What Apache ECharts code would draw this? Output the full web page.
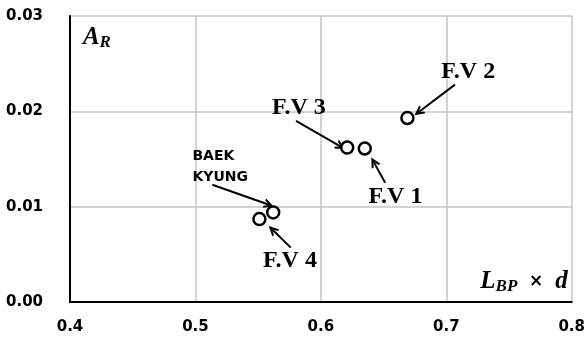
<!DOCTYPE html>
<html>
<head>
<meta charset="utf-8">
<script src="https://cdn.jsdelivr.net/npm/echarts@6/dist/echarts.min.js"></script>
<style>
    html,body{margin:0;padding:0;background:#fff;}
    #main{width:588px;height:341px;}
</style>
</head>
<body>
<div id="main"></div>
<script>
    // 数据点 (L_BP x d, A_R)
    var pointNames = ['F.V 2', 'F.V 3', 'F.V 1', 'F.V 4', 'BAEK KYUNG'];
    var xValues = [0.669, 0.621, 0.635, 0.551, 0.562];
    var yValues = [0.0193, 0.0162, 0.0161, 0.0087, 0.0094];

    // 坐标轴刻度
    var xTicks = [0.4, 0.5, 0.6, 0.7, 0.8];
    var yTicks = [0.00, 0.01, 0.02, 0.03];

    // 标注文字 (数据坐标)
    var noteText = ['F.V 2', 'F.V 3', 'F.V 1', 'F.V 4'];
    var noteX = [0.7175, 0.5825, 0.6595, 0.5754];
    var noteY = [0.0241, 0.0204, 0.0110, 0.0043];

    // 箭头 起点 -> 终点 (数据坐标)
    var arrowFromX = [0.7069, 0.5802, 0.6513, 0.5760, 0.5135];
    var arrowFromY = [0.0228, 0.0190, 0.0125, 0.0057, 0.0123];
    var arrowToX = [0.6778, 0.6159, 0.6421, 0.5613, 0.5587];
    var arrowToY = [0.0199, 0.0163, 0.0147, 0.0076, 0.0102];

    var serifFont = '"Liberation Serif","Times New Roman",serif';
    var sansFont = '"DejaVu Sans",sans-serif';
    var arrowHead = 'path://M0,10 L5,0 L10,10 L7.8,10 L5,4.6 L2.2,10 Z';

    var myChart = echarts.init(document.getElementById('main'));

    var points = xValues.map(function (x, i) { return {name: pointNames[i], value: [x, yValues[i]]}; });
    var arrows = arrowFromX.map(function (x, i) {
        return [{coord: [x, arrowFromY[i]]}, {coord: [arrowToX[i], arrowToY[i]]}];
    });

    var option = {
        animation: false,
        grid: {left: 70, right: 14, top: 16, bottom: 39},
        xAxis: {
            type: 'value',
            min: xTicks[0],
            max: xTicks[xTicks.length - 1],
            interval: 0.1,
            axisLine: {show: true, lineStyle: {color: '#000', width: 2}},
            axisTick: {show: false},
            splitLine: {show: true, lineStyle: {color: '#c4c4c4', width: 1.5}},
            axisLabel: {
                formatter: function (v) { return v.toFixed(1); },
                color: '#000', fontFamily: sansFont, fontWeight: 'bold', fontSize: 15, margin: 18
            }
        },
        yAxis: {
            type: 'value',
            min: yTicks[0],
            max: yTicks[yTicks.length - 1],
            interval: 0.01,
            axisLine: {show: true, lineStyle: {color: '#000', width: 2}},
            axisTick: {show: false},
            splitLine: {show: true, lineStyle: {color: '#c4c4c4', width: 1.5}},
            axisLabel: {
                formatter: function (v) { return v.toFixed(2); },
                color: '#000', fontFamily: sansFont, fontWeight: 'bold', fontSize: 15, margin: 27
            }
        },
        series: [{
            type: 'scatter',
            data: points,
            symbol: 'circle',
            symbolSize: 12,
            itemStyle: {color: '#fff', borderColor: '#000', borderWidth: 2.5, opacity: 1},
            z: 5,
            markLine: {
                silent: true,
                symbol: ['none', arrowHead],
                symbolSize: 10,
                label: {show: false},
                emphasis: {disabled: true},
                lineStyle: {color: '#000', width: 2, type: 'solid'},
                data: arrows
            }
        }]
    };
    myChart.setOption(option);

    // 文字标注, 位置通过坐标轴换算
    function px(x, y) { return myChart.convertToPixel({gridIndex: 0}, [x, y]); }
    var graphics = noteText.map(function (t, i) {
        var p = px(noteX[i], noteY[i]);
        return {
            type: 'text', x: p[0], y: p[1], z: 10,
            style: {text: t, fill: '#000', font: 'bold 24px ' + serifFont, align: 'center', verticalAlign: 'middle'}
        };
    });
    var pb = px(0.4976, 0.01422);
    graphics.push({
        type: 'text', x: pb[0], y: pb[1], z: 10,
        style: {text: 'BAEK\nKYUNG', fill: '#000', font: 'bold 14px ' + sansFont, lineHeight: 21, align: 'left', verticalAlign: 'middle'}
    });
    var pa = px(0.4103, 0.0277);
    graphics.push({
        type: 'text', x: pa[0], y: pa[1], z: 10,
        style: {
            text: '{a|A}{s|R}', align: 'left', verticalAlign: 'middle',
            rich: {
                a: {fontFamily: serifFont, fontStyle: 'italic', fontWeight: 'bold', fontSize: 25, fill: '#000', lineHeight: 28},
                s: {fontFamily: serifFont, fontStyle: 'italic', fontWeight: 'bold', fontSize: 17, fill: '#000', lineHeight: 28, padding: [9, 0, 0, 0]}
            }
        }
    });
    var pl = px(0.7968, 0.0021);
    graphics.push({
        type: 'text', x: pl[0], y: pl[1], z: 10,
        style: {
            text: '{a|L}{s|BP}{m|  ×  }{a|d}', align: 'right', verticalAlign: 'middle',
            rich: {
                a: {fontFamily: serifFont, fontStyle: 'italic', fontWeight: 'bold', fontSize: 25, fill: '#000', lineHeight: 28},
                s: {fontFamily: serifFont, fontStyle: 'italic', fontWeight: 'bold', fontSize: 17, fill: '#000', lineHeight: 28, padding: [9, 0, 0, 0]},
                m: {fontFamily: sansFont, fontWeight: 'bold', fontSize: 17, fill: '#000', lineHeight: 28}
            }
        }
    });
    myChart.setOption({graphic: graphics});
</script>
</body>
</html>
